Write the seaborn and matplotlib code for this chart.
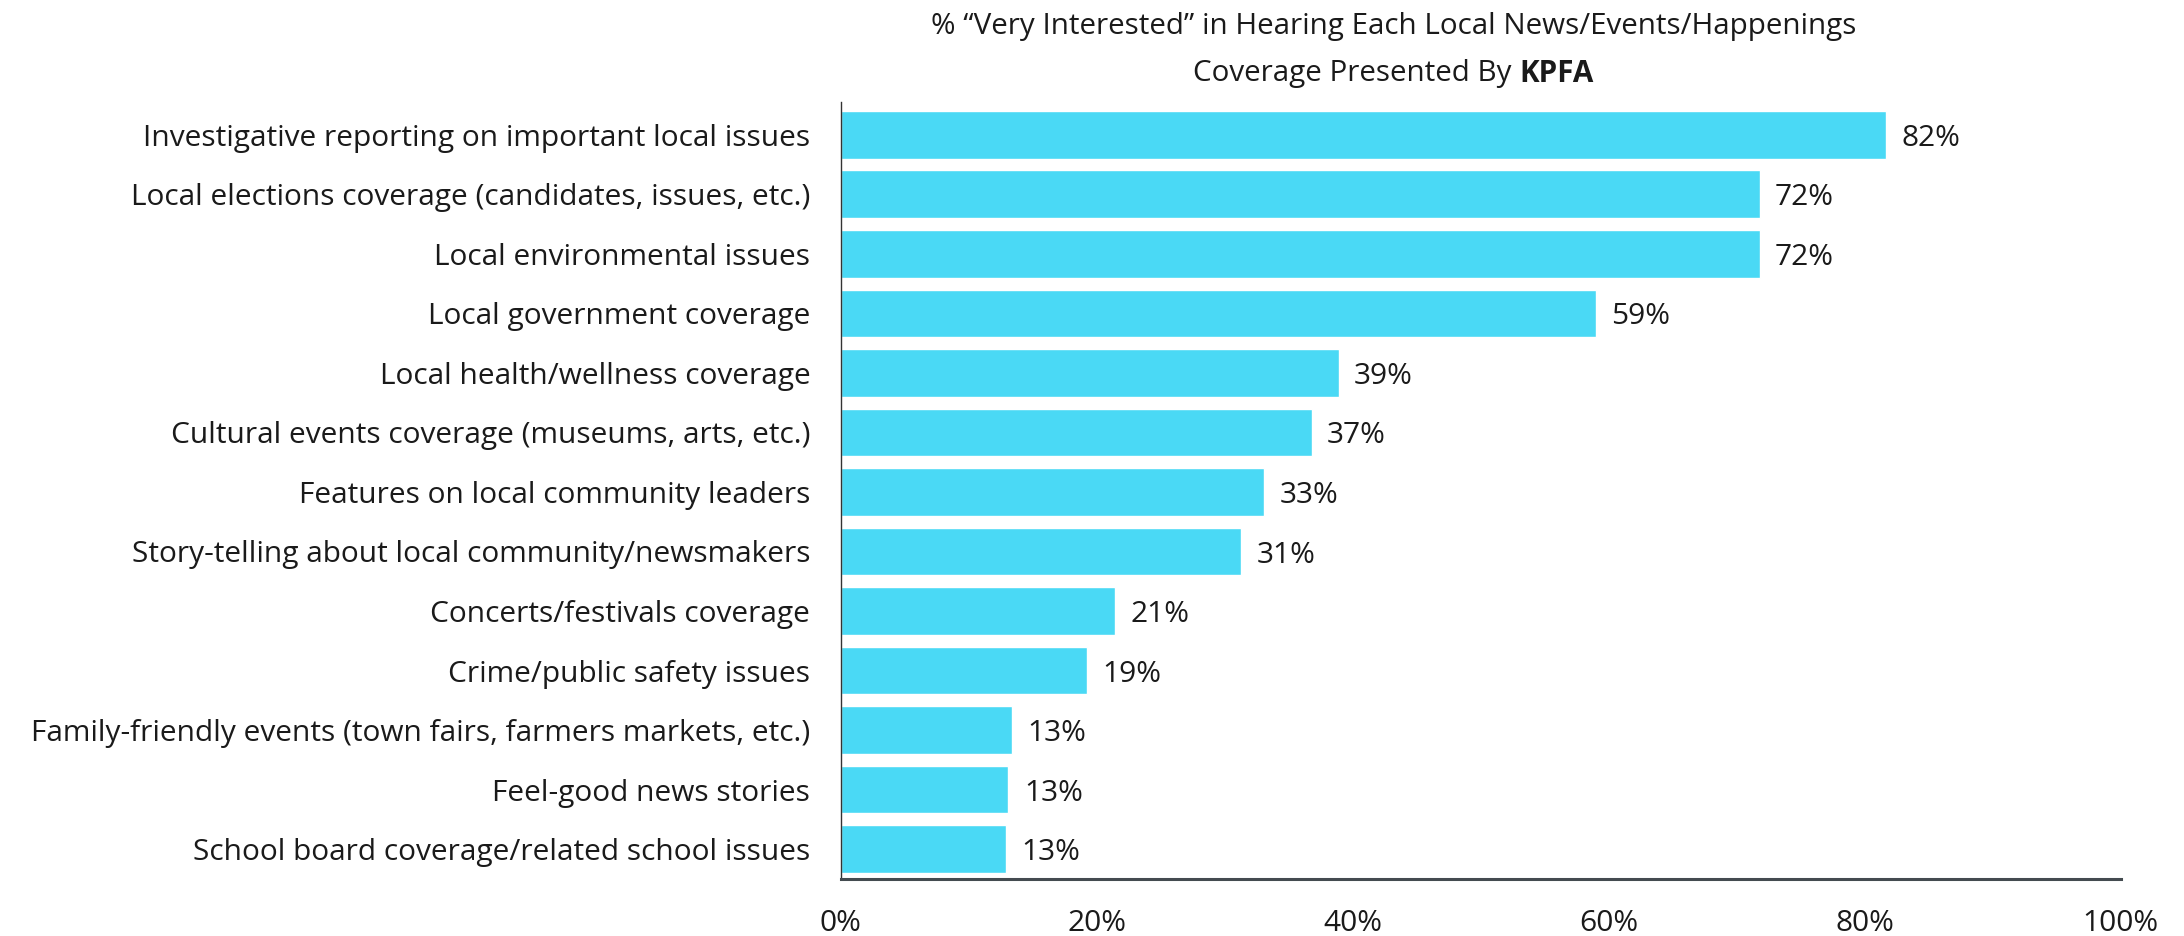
import numpy as np
import pandas as pd
import matplotlib
matplotlib.use("Agg")
import matplotlib.pyplot as plt
import seaborn as sns

sns.set_style("white")
plt.rcParams['font.family'] = ['Liberation Sans Narrow', 'Open Sans', 'DejaVu Sans']

topics = [
    "Investigative reporting on important local issues",
    "Local elections coverage (candidates, issues, etc.)",
    "Local environmental issues",
    "Local government coverage",
    "Local health/wellness coverage",
    "Cultural events coverage (museums, arts, etc.)",
    "Features on local community leaders",
    "Story-telling about local community/newsmakers",
    "Concerts/festivals coverage",
    "Crime/public safety issues",
    "Family-friendly events (town fairs, farmers markets, etc.)",
    "Feel-good news stories",
    "School board coverage/related school issues",
]
pct_very = [81.7, 71.8, 71.8, 59.0, 38.9, 36.8, 33.1, 31.3, 21.4, 19.2, 13.4, 13.1, 12.9]
xticks = [0, 20, 40, 60, 80, 100]

df = pd.DataFrame({"topic": topics, "pct": pct_very})

fig = plt.figure(figsize=(21.84, 9.36), dpi=100)
ax = fig.add_axes([0.385, 0.061, 0.586, 0.83])

sns.barplot(data=df, x="pct", y="topic", orient="h", color="#4AD9F5",
            saturation=1, width=0.8, ax=ax)

for i, v in enumerate(pct_very):
    ax.text(v + 1.2, i + 0.06, f"{round(v)}%", va="center", ha="left", fontsize=21.5, color="#1a1a1a")

ax.set_xlim(0, 100)
ax.set_ylim(12.5, -0.55)
ax.set_xticks(xticks)
ax.set_xticklabels([f"{t}%" for t in xticks], fontsize=21.5)
ax.tick_params(axis="x", length=0, pad=22)
ax.tick_params(axis="y", length=0, pad=22, labelsize=21.5)
ax.set_xlabel("")
ax.set_ylabel("")
for s in ["top", "right"]:
    ax.spines[s].set_visible(False)
ax.spines["left"].set_color("#333333")
ax.spines["left"].set_linewidth(1.0)
ax.spines["bottom"].set_color("#444b50")
ax.spines["bottom"].set_linewidth(2.2)
for lbl in ax.get_yticklabels():
    lbl.set_color("#1a1a1a")
for lbl in ax.get_xticklabels():
    lbl.set_color("#1a1a1a")

# title, second line has bold "KPFA"
tx = 0.638
fig.text(tx, 0.972, "% \u201cVery Interested\u201d in Hearing Each Local News/Events/Happenings",
         ha="center", va="center", fontsize=21.3, color="#1a1a1a")
fig.canvas.draw()
r = fig.canvas.get_renderer()
t1 = fig.text(0, 0.921, "Coverage Presented By ", ha="left", va="center", fontsize=21.3, color="#1a1a1a")
t2 = fig.text(0, 0.921, "KPFA", ha="left", va="center", fontsize=21.3, fontweight="bold", color="#1a1a1a")
w1 = t1.get_window_extent(r).width / fig.bbox.width
w2 = t2.get_window_extent(r).width / fig.bbox.width
x0 = tx - (w1 + w2) / 2
t1.set_x(x0)
t2.set_x(x0 + w1)

fig.savefig("out.png", dpi=100)
